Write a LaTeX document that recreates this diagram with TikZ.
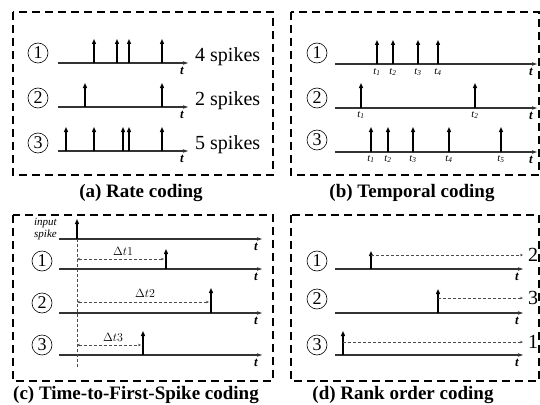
\documentclass[tikz,border=0pt]{standalone}
\usepackage{fontspec}
\setmainfont{Liberation Serif}
\usetikzlibrary{arrows.meta}

% time axis: #1 name, #2 x start, #3 x end, #4 y
\newcommand{\timeaxis}[4]{%
  \coordinate (#1-s) at (#2,#4);
  \coordinate (#1-e) at (#3,#4);
  \draw[axis] (#1-s) -- (#1-e);
  \node[tlab] (#1-t) at (#3-6,#4+8) {t};
}
% spike train: #1 name, #2 base y, #3 height, #4 list of x positions
\newcommand{\spiketrain}[4]{%
  \foreach \x [count=\i] in {#4} {
    \coordinate (#1-b\i) at (\x,#2);
    \coordinate (#1-h\i) at (\x,#2-#3);
    \draw[spike] (#1-b\i) -- (#1-h\i);
  }
}

\begin{document}
\begin{tikzpicture}[x=1pt,y=-1pt,
  panel/.style={draw, line width=1.5pt, dash pattern=on 8pt off 5pt},
  axis/.style={line width=1.1pt, draw=black!80, -{Stealth[length=5pt,width=3.5pt]}},
  spike/.style={line width=1.8pt, -{Triangle[length=5pt,width=4pt]}},
  num/.style={circle, draw, line width=0.6pt, minimum size=20pt, inner sep=0pt,
    font=\fontsize{18}{18}\selectfont},
  tlab/.style={font=\fontsize{13}{13}\selectfont\bfseries\itshape, inner sep=0pt},
  caption/.style={font=\fontsize{19}{19}\selectfont\bfseries, inner sep=0pt, anchor=base},
  cnt/.style={font=\fontsize{20}{20}\selectfont, anchor=west, inner sep=0pt},
  tick/.style={font=\fontsize{10.5}{10.5}\selectfont\itshape, inner sep=0pt},
  gapline/.style={draw=black!70, line width=0.8pt, dash pattern=on 3pt off 2pt},
  gap/.style={gapline, {Stealth[length=3pt,width=2.5pt]}-{Stealth[length=3pt,width=2.5pt]}},
  rank/.style={gapline, -{Stealth[length=3pt,width=2.5pt]}},
  dlab/.style={font=\fontsize{13}{13}\selectfont, inner sep=0pt},
]
\useasboundingbox (0,0) rectangle (540,404);

% ---------- frames and captions ----------
\draw[panel] (13,12) rectangle (273,175);
\draw[panel] (291,12) rectangle (539,175);
\draw[panel] (13,215) rectangle (273,381);
\draw[panel] (291,215) rectangle (539,381);
\node[caption] (capa) at (141,197) {(a) Rate coding};
\node[caption] (capb) at (412,197) {(b) Temporal coding};
\node[caption] (capc) at (136,399) {(c) Time-to-First-Spike coding};
\node[caption] (capd) at (403,399) {(d) Rank order coding};

% ---------- (a) rate coding ----------
\node[num] (a1) at (38,53) {1};
\node[num] (a2) at (38,98) {2};
\node[num] (a3) at (38,143) {3};
\timeaxis{ax1}{58}{188}{63}
\timeaxis{ax2}{58}{188}{107}
\timeaxis{ax3}{58}{188}{151}
\spiketrain{sa1}{63}{24}{94,117,129,162}
\spiketrain{sa2}{107}{24}{85,162}
\spiketrain{sa3}{151}{24}{66,94,123,129,162}
\node[cnt] (na1) at (195,57) {4 spikes};
\node[cnt] (na2) at (195,101) {2 spikes};
\node[cnt] (na3) at (195,145) {5 spikes};

% ---------- (b) temporal coding ----------
\node[num] (b1) at (317,53) {1};
\node[num] (b2) at (317,98) {2};
\node[num] (b3) at (317,140) {3};
\timeaxis{bx1}{335}{537}{64}
\timeaxis{bx2}{335}{537}{108}
\timeaxis{bx3}{335}{537}{152}
\spiketrain{sb1}{64}{24}{377,393,418,438}
\spiketrain{sb2}{108}{25}{361,475}
\spiketrain{sb3}{152}{25}{371,388,413,449,501}
\foreach \x [count=\i] in {377,393,418,438}
  \node[tick] (tb1-\i) at (\x,72) {t\textsubscript{\i}};
\foreach \x [count=\i] in {361,475}
  \node[tick] (tb2-\i) at (\x,115) {t\textsubscript{\i}};
\foreach \x [count=\i] in {371,388,413,449,501}
  \node[tick] (tb3-\i) at (\x,159) {t\textsubscript{\i}};

% ---------- (c) time-to-first-spike ----------
\node[font=\fontsize{11}{12}\selectfont\itshape, align=right, anchor=east, inner sep=0pt]
  (inp) at (57,229) {input\\spike};
\timeaxis{cx0}{59}{262}{239}
\timeaxis{cx1}{59}{262}{269}
\timeaxis{cx2}{59}{262}{313}
\timeaxis{cx3}{59}{262}{355}
\node[num] (c1) at (42,261) {1};
\node[num] (c2) at (42,303) {2};
\node[num] (c3) at (42,345) {3};
\spiketrain{sc0}{239}{20}{77}
\spiketrain{sc1}{269}{20}{166}
\spiketrain{sc2}{313}{25}{211}
\spiketrain{sc3}{355}{24}{143}
% reference line below the input spike
\coordinate (ref-top) at (77,239);
\coordinate (ref-bot) at (77,367);
\draw[gapline] (ref-top) -- (ref-bot);
\coordinate (g1a) at (77,259);  \coordinate (g1b) at (164,259);
\coordinate (g2a) at (77,302);  \coordinate (g2b) at (209,302);
\coordinate (g3a) at (77,345);  \coordinate (g3b) at (141,345);
\draw[gap] (g1a) -- (g1b);
\draw[gap] (g2a) -- (g2b);
\draw[gap] (g3a) -- (g3b);
\node[dlab] (dt1) at (123,251) {$\Delta t1$};
\node[dlab] (dt2) at (145,293) {$\Delta t2$};
\node[dlab] (dt3) at (113,337) {$\Delta t3$};

% ---------- (d) rank order coding ----------
\node[num] (d1) at (317,261) {1};
\node[num] (d2) at (317,299) {2};
\node[num] (d3) at (317,345) {3};
\timeaxis{dx1}{335}{523}{269}
\timeaxis{dx2}{335}{523}{313}
\timeaxis{dx3}{335}{523}{355}
\spiketrain{sd1}{269}{18}{371}
\spiketrain{sd2}{313}{24}{438}
\spiketrain{sd3}{355}{24}{343}
\coordinate (r1a) at (371,255);  \coordinate (r1b) at (523,255);
\coordinate (r2a) at (438,298);  \coordinate (r2b) at (523,298);
\coordinate (r3a) at (343,342);  \coordinate (r3b) at (523,342);
\draw[rank] (r1a) -- (r1b);
\draw[rank] (r2a) -- (r2b);
\draw[rank] (r3a) -- (r3b);
\node[cnt] (k1) at (528,255) {2};
\node[cnt] (k2) at (528,298) {3};
\node[cnt] (k3) at (528,342) {1};
\end{tikzpicture}
\end{document}
